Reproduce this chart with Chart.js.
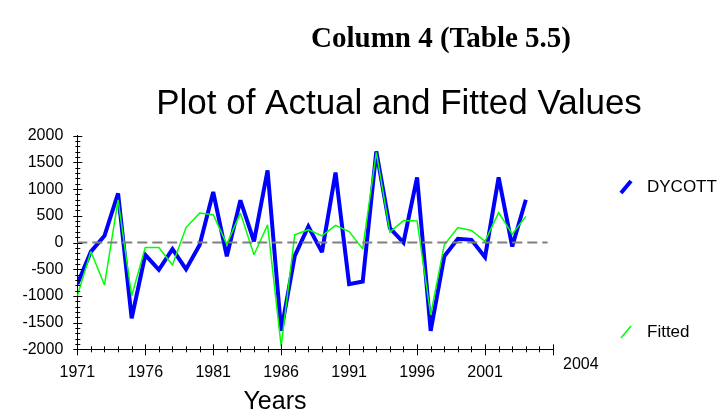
<!DOCTYPE html>
<html>
<head>
<meta charset="utf-8">
<script src="https://cdn.jsdelivr.net/npm/chart.js@4.4.1/dist/chart.umd.min.js"></script>
<style>
  html, body { margin: 0; padding: 0; background: #fff; }
  #wrap { width: 728px; height: 417px; }
</style>
</head>
<body>
<div id="wrap"><canvas id="plot" width="728" height="417"></canvas></div>
<script>
// annual series, 1971-2004
const years = [1971, 1972, 1973, 1974, 1975, 1976, 1977, 1978, 1979, 1980,
               1981, 1982, 1983, 1984, 1985, 1986, 1987, 1988, 1989, 1990,
               1991, 1992, 1993, 1994, 1995, 1996, 1997, 1998, 1999, 2000,
               2001, 2002, 2003, 2004];
const dycott = [-780, -170, 125, 920, -1420, -230, -510, -125, -500, -45,
                945, -260, 790, 20, 1350, -1655, -250, 300, -180, 1310,
                -780, -730, 1705, 270, 0, 1220, -1655, -260, 70, 50,
                -275, 1220, -75, 800];
const fitted = [-1000, -170, -795, 800, -1000, -95, -95, -420, 280, 550,
                520, -30, 550, -230, 330, -1940, 145, 240, 125, 320,
                205, -120, 1690, 195, 410, 405, -1355, -45, 280, 225,
                20, 560, 155, 490];

const xTickYears = [1971, 1976, 1981, 1986, 1991, 1996, 2001];
const yTickValues = [-2000, -1500, -1000, -500, 0, 500, 1000, 1500, 2000];
const endYearLabel = '2004';

const SANS = 'Arial, "Liberation Sans", sans-serif';
const SERIF = '"Times New Roman", "Liberation Serif", serif';

const toPoints = (ys) => years.map((yr, i) => ({ x: yr, y: ys[i] }));

// axis tick marks that cross the axis lines, zero reference line, and text
const decorations = {
  id: 'decorations',
  beforeDatasetsDraw(chart) {
    // keep the thick line's sharp corners from growing long spikes
    chart.ctx.miterLimit = 2.5;
  },
  afterDatasetsDraw(chart) {
    const { ctx, scales: { x, y } } = chart;
    ctx.save();
    ctx.strokeStyle = '#808080';
    ctx.lineWidth = 2;
    ctx.setLineDash([10, 5]);
    ctx.beginPath();
    const y0 = y.getPixelForValue(0);
    ctx.moveTo(x.getPixelForValue(1971), y0);
    ctx.lineTo(x.getPixelForValue(2005.6), y0);
    ctx.stroke();
    ctx.restore();
  },
  afterDraw(chart) {
    const { ctx, scales: { x, y }, chartArea } = chart;
    ctx.save();
    ctx.strokeStyle = '#000';
    ctx.lineWidth = 1;
    ctx.beginPath();
    for (let v = -2000; v <= 2000; v += 100) {
      const py = Math.round(y.getPixelForValue(v)) + 0.5;
      const major = v % 500 === 0;
      ctx.moveTo(chartArea.left - (major ? 4 : 2), py);
      ctx.lineTo(chartArea.left + (major ? 5 : 3), py);
    }
    for (let yr = 1971; yr <= 2006; yr++) {
      const px = Math.round(x.getPixelForValue(yr)) + 0.5;
      const major = (yr - 1971) % 5 === 0;
      ctx.moveTo(px, chartArea.bottom - (major ? 5 : 3));
      ctx.lineTo(px, chartArea.bottom + (major ? 6 : 3));
    }
    ctx.stroke();

    ctx.fillStyle = '#000';
    ctx.textBaseline = 'alphabetic';

    ctx.textAlign = 'center';
    ctx.font = 'bold 29px ' + SERIF;
    ctx.fillText('Column 4 (Table 5.5)', 441, 47);

    ctx.font = '35px ' + SANS;
    ctx.fillText('Plot of Actual and Fitted Values', 399, 114);

    ctx.font = '25px ' + SANS;
    ctx.fillText('Years', 275, 409);

    ctx.textAlign = 'left';
    ctx.font = '16px ' + SANS;
    ctx.fillText(endYearLabel, 563, 369);

    // legend
    const items = [
      { ds: chart.data.datasets[1], cy: 187 },
      { ds: chart.data.datasets[0], cy: 332 }
    ];
    ctx.font = '17px ' + SANS;
    ctx.textBaseline = 'middle';
    items.forEach(({ ds, cy }) => {
      ctx.strokeStyle = ds.borderColor;
      ctx.lineWidth = ds.borderWidth;
      ctx.beginPath();
      ctx.moveTo(621, cy + 6);
      ctx.lineTo(631, cy - 6);
      ctx.stroke();
      ctx.fillText(ds.label, 647, cy);
    });
    ctx.restore();
  }
};

new Chart(document.getElementById('plot'), {
  type: 'line',
  data: {
    datasets: [
      {
        label: 'Fitted',
        data: toPoints(fitted),
        borderColor: '#00ff00',
        borderWidth: 1.5,
        pointRadius: 0,
        tension: 0,
        order: 0
      },
      {
        label: 'DYCOTT',
        data: toPoints(dycott),
        borderColor: '#0000ff',
        borderWidth: 4,
        pointRadius: 0,
        tension: 0,
        order: 1
      }
    ]
  },
  options: {
    responsive: false,
    animation: false,
    devicePixelRatio: 1,
    layout: { padding: { top: 135.7, right: 175, bottom: 0, left: 0 } },
    plugins: {
      legend: { display: false },
      tooltip: { enabled: false },
      title: { display: false }
    },
    scales: {
      x: {
        type: 'linear',
        min: 1971,
        max: 2006,
        afterBuildTicks: (s) => { s.ticks = xTickYears.map(v => ({ value: v })); },
        afterFit: (s) => { s.height = 417 - 349.3; },
        grid: { display: false },
        border: { display: true, color: '#000', width: 1 },
        ticks: {
          color: '#000',
          font: { family: SANS, size: 16 },
          padding: 6,
          maxRotation: 0,
          autoSkip: false,
          callback: (v) => String(v)
        }
      },
      y: {
        type: 'linear',
        min: -2000,
        max: 2000,
        afterBuildTicks: (s) => { s.ticks = yTickValues.map(v => ({ value: v })); },
        afterFit: (s) => { s.width = 77.3; },
        grid: { display: false },
        border: { display: true, color: '#000', width: 1 },
        ticks: {
          color: '#000',
          font: { family: SANS, size: 16 },
          padding: 6,
          callback: (v) => String(v)
        }
      }
    }
  },
  plugins: [decorations]
});
</script>
</body>
</html>
